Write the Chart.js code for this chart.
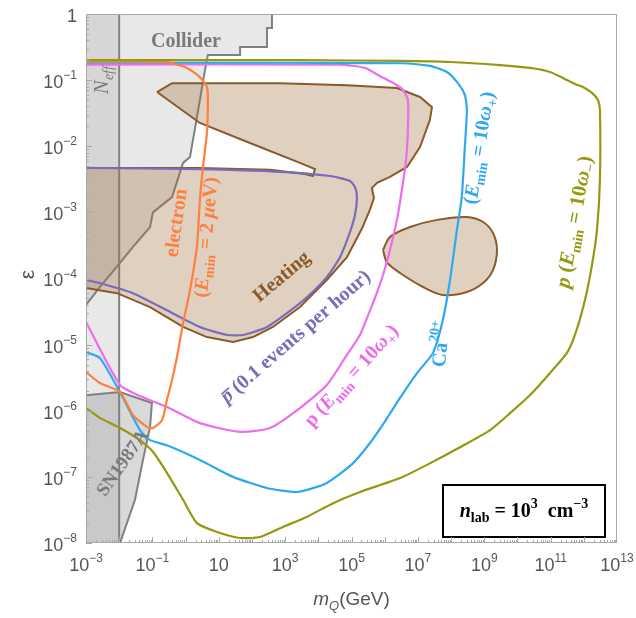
<!DOCTYPE html>
<html lang="en">
<head>
<meta charset="UTF-8">
<title>Millicharged particle reach</title>
<script src="https://cdn.jsdelivr.net/npm/chart.js@4"></script>
<style>
  html, body { margin: 0; padding: 0; background: #fff; }
  #wrap { width: 636px; height: 618px; }
</style>
</head>
<body>
<div id="wrap"><canvas id="grafico" width="636" height="618"></canvas></div>
<script>
// ---- data: [m_Q (GeV), epsilon] ----
const pOmegaMinus = [[1e-3,0.2],[2.7,0.2],[2.8e3,0.2],[2.9e6,0.195],[9.3e7,0.188],[3e9,0.169],[2.4e10,0.153],[9.5e10,0.133],[2.35e11,0.108],[5.4e11,0.0874],[9.4e11,0.0787],[1.76e12,0.064],[2.67e12,0.05],[3.06e12,0.035],[3.06e12,3.1e-3],[2.49e12,5.4e-4],[1.76e12,1.6e-4],[1.08e12,4.7e-5],[5.4e11,1.4e-5],[3.1e11,7.5e-6],[9.5e10,3.7e-6],[2.4e10,1.73e-6],[6e9,9.2e-7],[1.5e9,5.1e-7],[1.85e8,2.8e-7],[2.3e7,1.6e-7],[2.9e6,9.6e-8],[1.8e5,5.9e-8],[2.8e4,4e-8],[4.6e3,2.5e-8],[860,1.75e-8],[175,1.23e-8],[44,1.19e-8],[8.9,1.47e-8],[2.2,2e-8],[0.84,4.5e-8],[0.275,1.15e-7],[0.104,2.4e-7],[0.042,3.6e-7],[0.0106,5.5e-7],[2.6e-3,7.8e-7],[1e-3,1.1e-6]];
const caOmegaPlus = [[1e-3,0.183],[2.8e3,0.183],[2.9e6,0.18],[2.3e7,0.164],[7.5e7,0.133],[1.5e8,0.094],[2.6e8,0.06],[3e8,0.035],[2.6e8,9.7e-3],[2.1e8,1.7e-3],[1.5e8,5.4e-4],[9.3e7,9.5e-5],[5.7e7,2.4e-5],[2.85e7,7.5e-6],[9.4e6,3.7e-6],[2.9e6,1.56e-6],[1e6,6.8e-7],[3.6e5,3.25e-7],[1.1e5,1.6e-7],[1.8e4,8.1e-8],[2.3e3,5.9e-8],[280,6.8e-8],[27,1e-7],[2.7,1.8e-7],[0.275,3e-7],[0.085,3.6e-7],[0.042,5.1e-7],[0.0106,1.9e-6],[2.6e-3,6.3e-6],[1e-3,7.7e-6]];
const pOmegaPlus = [[1e-3,0.172],[4.5e4,0.172],[2.55e5,0.153],[7.2e5,0.115],[2.04e6,0.0874],[3.56e6,0.071],[5e6,0.05],[5e6,0.0176],[4.4e6,6.2e-3],[3.3e6,2.2e-3],[2.34e6,7.7e-4],[1.44e6,2.7e-4],[8.9e5,1.13e-4],[5.1e5,5.1e-5],[2.9e5,2.5e-5],[1.8e5,1.4e-5],[7.3e4,7e-6],[1.8e4,2.45e-6],[2.8e3,1.1e-6],[350,5.5e-7],[44,4.8e-7],[2.7,6.5e-7],[0.275,1.14e-6],[0.042,1.67e-6],[0.0106,2.45e-6],[1e-3,2.2e-5]];
const electron = [[1e-3,0.19],[0.275,0.187],[1.1,0.153],[2.7,0.111],[4.4,0.079],[4.7,0.05],[4.4,0.0159],[3.35,4.86e-3],[2.7,1.54e-3],[2.2,3e-4],[1.36,6.7e-5],[0.84,2.1e-5],[0.55,6.5e-6],[0.39,2.9e-6],[0.275,1.46e-6],[0.195,7.2e-7],[0.104,5.5e-7],[0.069,5.7e-7],[0.026,8.6e-7],[0.0106,1.92e-6],[2.6e-3,2.63e-6],[1e-3,3.86e-6]];
const antiproton = [[1e-3,4.7e-3],[2.7,4.5e-3],[700,4.1e-3],[2.25e4,3.55e-3],[9e4,2.98e-3],[1.27e5,2.42e-3],[1.46e5,1.7e-3],[1.27e5,9.1e-4],[9e4,5.05e-4],[4.5e4,2.1e-4],[1.8e4,1.05e-4],[4.6e3,5.25e-5],[1.14e3,3e-5],[284,1.85e-5],[54,1.4e-5],[17.7,1.4e-5],[2.7,1.85e-5],[0.275,3.3e-5],[0.026,6e-5],[2.6e-3,8.5e-5],[1e-3,9.5e-5]];
const heating = [[0.138,0.066],[0.39,0.09],[700,0.09],[7.3e4,0.084],[2.34e6,0.076],[1.16e7,0.0556],[2.66e7,0.039],[2.3e7,0.025],[1.16e7,9.7e-3],[4.7e6,4.86e-3],[1.44e6,3.43e-3],[5.9e5,2.8e-3],[4.1e5,2.34e-3],[4.75e5,1.65e-3],[3.6e5,1.1e-3],[2.1e5,5.8e-4],[7.3e4,2.1e-4],[1.8e4,9.5e-5],[2.8e3,3.7e-5],[430,1.85e-5],[108,1.3e-5],[27,1.1e-5],[4.4,1.3e-5],[0.84,1.85e-5],[0.085,3.7e-5],[8.6e-3,6e-5],[1e-3,7.2e-5],[8e-4,7.4e-5],[8e-4,4.7e-3],[2.7,4.7e-3],[350,4.4e-3],[3960,3.8e-3],[6900,3.55e-3],[7940,4.5e-3],[2.8e3,5.6e-3],[87,0.0112],[2.7,0.0225],[0.138,0.066]];
const heatingIsland = [[8.9e5,2.7e-4],[1.44e6,4.24e-4],[5.8e6,6e-4],[3.76e7,7.7e-4],[3e8,8.5e-4],[9.2e8,7.15e-4],[1.83e9,4.9e-4],[2.42e9,2.7e-4],[1.83e9,1.34e-4],[9.2e8,8.55e-5],[3e8,6.25e-5],[5.7e7,5.63e-5],[1.43e7,7.44e-5],[2.9e6,1.21e-4],[1.17e6,1.75e-4],[8.9e5,2.7e-4]];
const collider = [[8e-4,1.3],[402,1.3],[402,0.614],[284,0.614],[284,0.317],[44,0.317],[44,0.24],[4.7,0.24],[3.85,0.142],[2.7,0.05],[1.67,0.0124],[1.36,6.9e-3],[0.84,5.6e-3],[0.39,1.7e-3],[0.104,1e-3],[0.085,6e-4],[0.026,3e-4],[0.0106,1.72e-4],[2.6e-3,7.4e-5],[1e-3,4e-5],[8e-4,3.5e-5],[8e-4,1.3]];
const sn1987a = [[8e-4,1.7e-6],[0.0106,1.92e-6],[0.097,1.31e-6],[0.085,5.7e-7],[0.052,1.8e-7],[0.03,4.5e-8],[0.0106,1e-8],[0.0098,7e-9],[8e-4,7e-9],[8e-4,1.7e-6]];
const nEff = [[5e-4,5e-9],[0.01,5e-9],[0.01,2],[5e-4,2],[5e-4,5e-9]];

const xTickExps = [-3, -1, 1, 3, 5, 7, 9, 11, 13];
const yTickExps = [0, -1, -2, -3, -4, -5, -6, -7, -8];

const serif = '"Liberation Serif", "DejaVu Serif", serif';
const sans = '"Liberation Sans", Arial, sans-serif';

// text labels: anchor in data coords, angle in degrees, runs of [text, flags]
// flags: i italic, _ subscript, ^ superscript, o overline
const notes = [
  {x: 1.03, y: 0.377, a: 0, size: 20, color: '#7a7a7a', bold: true, runs: [['Collider', '']]},
  {x: 3.1e-3, y: 0.1, a: -90, size: 21, color: '#7a7a7a', bold: false, runs: [['N', 'i'], ['eff', '_i']]},
  {x: 0.013, y: 1.6e-7, a: -55, size: 19, color: '#7a7a7a', bold: true, runs: [['SN1987A', '']]},
  {x: 0.55, y: 6.9e-4, a: -82, size: 20, color: '#ff7f3f', bold: true, runs: [['electron', '']]},
  {x: 4.4, y: 4.2e-4, a: -85, size: 20, color: '#ff7f3f', bold: true, runs: [['(', ''], ['E', 'i'], ['min', '_'], [' = 2 ', ''], ['μ', 'i'], ['eV)', '']]},
  {x: 800, y: 1.05e-4, a: -40, size: 20, color: '#8b5a2b', bold: true, runs: [['Heating', '']]},
  {x: 2100, y: 1.3e-5, a: -41, size: 20, color: '#7b6bb8', bold: true, runs: [['p', 'io'], [' (0.1 events per hour)', '']]},
  {x: 1.03e5, y: 3.35e-6, a: -48, size: 20, color: '#ee66ee', bold: true, runs: [['p (', ''], ['E', 'i'], ['min', '_'], [' = 10', ''], ['ω', 'i'], ['+', '_'], [')', '']]},
  {x: 5.3e7, y: 1.02e-5, a: -84, size: 20, color: '#2ea8f0', bold: true, runs: [['Ca', ''], ['20+', '^']]},
  {x: 7.4e8, y: 9.4e-3, a: -81, size: 20, color: '#2ea8f0', bold: true, runs: [['(', ''], ['E', 'i'], ['min', '_'], [' = 10', ''], ['ω', 'i'], ['+', '_'], [')', '']]},
  {x: 5.4e11, y: 7.15e-4, a: -80, size: 21, color: '#979712', bold: true, runs: [['p', 'i'], [' (', ''], ['E', 'i'], ['min', '_'], [' = 10', ''], ['ω', 'i'], ['−', '_'], [')', '']]}
];

function runFont(f, size, fam, bold) {
  const small = f.includes('_') || f.includes('^');
  return (f.includes('i') ? 'italic ' : '') + (bold ? 'bold ' : '') + Math.round(small ? size * 0.68 : size) + 'px ' + fam;
}
function runsWidth(ctx, runs, size, fam, bold) {
  let w = 0;
  for (const [t, f] of runs) { ctx.font = runFont(f, size, fam, bold); w += ctx.measureText(t).width; }
  return w;
}
function drawRuns(ctx, runs, x0, y0, size, fam, bold) {
  let cx = x0;
  ctx.textAlign = 'left';
  ctx.textBaseline = 'middle';
  for (const [t, f] of runs) {
    ctx.font = runFont(f, size, fam, bold);
    const dy = f.includes('_') ? size * 0.32 : f.includes('^') ? -size * 0.4 : 0;
    ctx.fillText(t, cx, y0 + dy);
    const w = ctx.measureText(t).width;
    if (f.includes('o')) ctx.fillRect(cx + 2, y0 - size * 0.32, w, 1.6);
    cx += w;
  }
}
function drawLabel(ctx, runs, cx, cy, angle, size, fam, bold, color) {
  ctx.save();
  ctx.translate(cx, cy);
  ctx.rotate(angle * Math.PI / 180);
  ctx.fillStyle = color;
  const w = runsWidth(ctx, runs, size, fam, bold);
  drawRuns(ctx, runs, -w / 2, 0, size, fam, bold);
  ctx.restore();
}
function powRuns(n) {
  if (n === 0) return [['1', '']];
  if (n === 1) return [['10', '']];
  return [['10', ''], [(n < 0 ? '−' + (-n) : '' + n), '^']];
}

function curve(pairs, color) {
  return {data: pairs.map(([x, y]) => ({x, y})), showLine: true, borderColor: color,
    borderWidth: 2.2, pointRadius: 0, tension: 0.2, fill: false};
}
function region(pairs, fillColor, lineColor, tension) {
  return {data: pairs.map(([x, y]) => ({x, y})), showLine: true, borderColor: lineColor,
    backgroundColor: fillColor, borderWidth: 2, pointRadius: 0, tension: tension, fill: 'shape'};
}

const decor = {
  id: 'decor',
  afterDatasetsDraw(chart) {
    const {ctx, chartArea: a, scales: {x, y}} = chart;
    ctx.save();
    // text labels on the plot
    notes.forEach(n => drawLabel(ctx, n.runs, x.getPixelForValue(n.x), y.getPixelForValue(n.y), n.a, n.size, serif, n.bold, n.color));

    // inset box
    const boxRuns = [['n', 'i'], ['lab', '_'], [' = 10', ''], ['3', '^'], ['  cm', ''], ['−3', '^']];
    const bx = a.right - 174, bw = 162, by = a.bottom - 58, bh = 52;
    ctx.fillStyle = '#fff';
    ctx.fillRect(bx, by, bw, bh);
    ctx.strokeStyle = '#000';
    ctx.lineWidth = 2;
    ctx.strokeRect(bx, by, bw, bh);
    drawLabel(ctx, boxRuns, bx + bw / 2, by + bh / 2 + 1, 0, 20, serif, true, '#000');

    // frame
    ctx.strokeStyle = '#a8a8a8';
    ctx.lineWidth = 1;
    ctx.strokeRect(a.left + 0.5, a.top + 0.5, a.right - a.left - 1, a.bottom - a.top - 1);

    // inward ticks
    ctx.beginPath();
    for (let n = -3; n <= 12; n++) {
      for (let k = 1; k <= 9; k++) {
        const px = Math.round(x.getPixelForValue(k * Math.pow(10, n))) + 0.5;
        ctx.moveTo(px, a.bottom);
        ctx.lineTo(px, a.bottom - (k === 1 ? 6 : 3));
      }
    }
    for (let n = -8; n <= -1; n++) {
      for (let k = 1; k <= 9; k++) {
        const py = Math.round(y.getPixelForValue(k * Math.pow(10, n))) + 0.5;
        ctx.moveTo(a.left, py);
        ctx.lineTo(a.left + (k === 1 ? 6 : 3), py);
      }
    }
    ctx.stroke();

    // tick labels
    ctx.fillStyle = '#555';
    xTickExps.forEach(n => {
      const runs = powRuns(n);
      const w = runsWidth(ctx, runs, 18, sans, false);
      drawRuns(ctx, runs, x.getPixelForValue(Math.pow(10, n)) - w / 2, a.bottom + 23, 18, sans, false);
    });
    yTickExps.forEach(n => {
      const runs = powRuns(n);
      const w = runsWidth(ctx, runs, 18, sans, false);
      drawRuns(ctx, runs, a.left - 9 - w, y.getPixelForValue(Math.pow(10, n)) + 3, 18, sans, false);
    });

    // axis titles
    drawLabel(ctx, [['m', 'i'], ['Q', '_i'], ['(GeV)', '']], (a.left + a.right) / 2, a.bottom + 57, 0, 19, sans, false, '#555');
    drawLabel(ctx, [['ε', '']], 28, (a.top + a.bottom) / 2 - 4, -90, 21, sans, false, '#555');
    ctx.restore();
  }
};

new Chart(document.getElementById('grafico').getContext('2d'), {
  type: 'scatter',
  data: {
    datasets: [
      curve(pOmegaMinus, '#979712'),
      curve(electron, '#ff7f3f'),
      curve(caOmegaPlus, '#2ea8f0'),
      curve(pOmegaPlus, '#ee6cee'),
      curve(antiproton, '#7b6bb8'),
      region(heatingIsland, 'rgba(160,110,60,0.32)', '#8b5a2b', 0.3),
      region(heating, 'rgba(160,110,60,0.32)', '#8b5a2b', 0),
      region(sn1987a, 'rgba(130,130,130,0.3)', '#808080', 0),
      region(collider, 'rgba(140,140,140,0.2)', '#808080', 0),
      region(nEff, 'rgba(140,140,140,0.2)', '#808080', 0)
    ]
  },
  options: {
    responsive: false,
    devicePixelRatio: 1,
    animation: false,
    layout: {padding: {top: 14, right: 19, left: 0, bottom: 0}},
    plugins: {legend: {display: false}, tooltip: {enabled: false}},
    scales: {
      x: {type: 'logarithmic', min: 1e-3, max: 1e13,
        ticks: {display: false}, grid: {display: false}, border: {display: false},
        afterFit: s => { s.height = 75; }},
      y: {type: 'logarithmic', min: 1e-8, max: 1,
        ticks: {display: false}, grid: {display: false}, border: {display: false},
        afterFit: s => { s.width = 86; }}
    }
  },
  plugins: [decor]
});
</script>
</body>
</html>
